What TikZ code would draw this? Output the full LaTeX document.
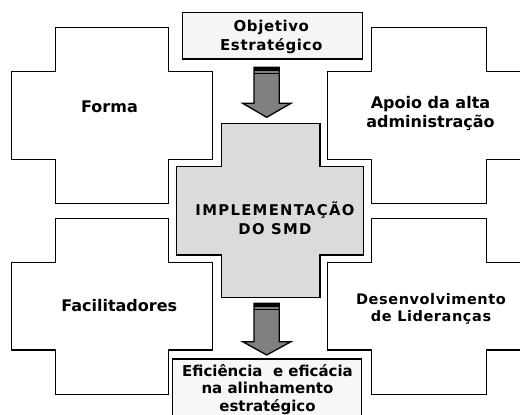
\documentclass[tikz,border=0pt]{standalone}
\usepackage{fontspec}
\setmainfont{DejaVu Sans}
\newfontfamily\spacedA[LetterSpace=9]{DejaVu Sans}
\newfontfamily\spacedB[LetterSpace=4]{DejaVu Sans}
\newcommand{\crosspath}[8]{(#2,#5) -- (#3,#5) -- (#3,#6) -- (#4,#6) -- (#4,#7) -- (#3,#7) -- (#3,#8) -- (#2,#8) -- (#2,#7) -- (#1,#7) -- (#1,#6) -- (#2,#6) -- cycle}
\newcommand{\blockarrow}[5]{% shaft left, shaft right, top, head y, tip y
  \fill[arrowfill] (#1,#3) -- (#2,#3) -- (#2,#4) -- (#2+11.7,#4) -- ({(#1+#2)/2},#5) -- (#1-11.3,#4) -- (#1,#4) -- cycle;
  \draw[outline] (#1,#3) -- (#2,#3) -- (#2,#4) -- (#2+11.7,#4) -- ({(#1+#2)/2},#5) -- (#1-11.3,#4) -- (#1,#4) -- cycle;
  \fill[black] (#1,#3) rectangle (#2,#3+3.5);
  \draw[line width=1pt] (#1,#3+5.8) -- (#2,#3+5.8);}
\tikzset{
  outline/.style={draw=black,line width=1.3pt,line join=miter},
  arrowfill/.style={fill=black!50},
  lbl/.style={font=\bfseries\fontsize{15}{18.5}\selectfont,align=center,text=black,inner sep=0pt},
  biglbl/.style={lbl,font=\bfseries\fontsize{16}{19}\selectfont},
}
\begin{document}
\begin{tikzpicture}[x=1pt,y=-1pt]
\useasboundingbox (0,0) rectangle (520,415);
\clip (0,0) rectangle (520,415);
% crosses
\draw[outline,fill=white] \crosspath{11.7}{55.7}{168.3}{212.7}{27.3}{71.7}{159.3}{203.3};
\draw[outline,fill=white] \crosspath{327.7}{371.7}{486.7}{535}{27.3}{71.7}{159.3}{203.3};
\draw[outline,fill=white] \crosspath{11.7}{55.7}{168.3}{212.7}{218.3}{262.6}{350}{394.3};
\draw[outline,fill=white] \crosspath{327.7}{371.7}{486.7}{535}{218.3}{262.6}{350}{394.3};
\draw[outline,fill=black!14] \crosspath{176.7}{221.7}{320}{363.3}{123.3}{166.7}{255}{297.7};
% boxes
\draw[outline,fill=black!4] (182.7,12.3) rectangle (362.3,59);
\draw[outline,fill=black!3] (172.3,359) rectangle (361.7,440);
% arrows
\blockarrow{254}{279.3}{67.3}{103.3}{117.3}
\blockarrow{254}{279.3}{303.3}{341.7}{355}
% labels
\node[lbl,font=\spacedB\bfseries\fontsize{15}{19}\selectfont] (obj) at (271.3,37) {Objetivo\\Estratégico};
\node[biglbl] (forma) at (109.5,106.7) {Forma};
\node[biglbl] (apoio) at (430.5,113) {Apoio da alta\\administração};
\node[lbl,font=\spacedA\bfseries\fontsize{14.8}{18.5}\selectfont] (impl) at (275,218) {IMPLEMENTAÇÃO\\DO SMD};
\node[biglbl] (facil) at (119.2,305.5) {Facilitadores};
\node[lbl,font=\spacedB\bfseries\fontsize{14.5}{17}\selectfont] (desenv) at (431,309) {Desenvolvimento\\de Lideranças};
\node[lbl,font=\bfseries\fontsize{15}{17.8}\selectfont] (efic) at (267.5,389.5) {Eficiência\ \ e eficácia\\na alinhamento\\estratégico};
\end{tikzpicture}
\end{document}
